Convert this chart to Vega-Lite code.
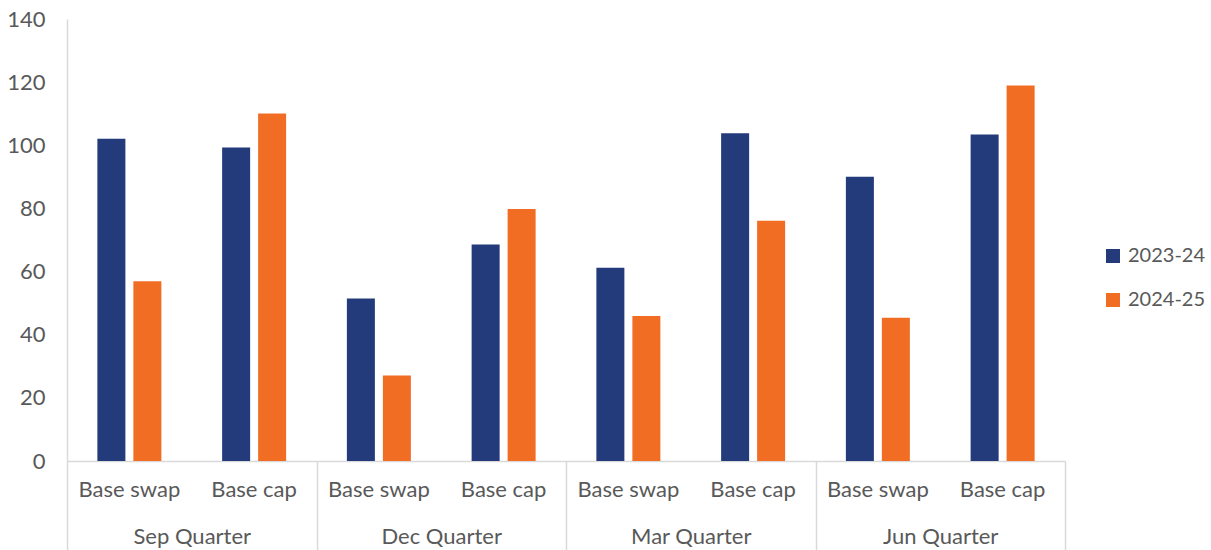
{
  "$schema": "https://vega.github.io/schema/vega-lite/v6.json",
  "width": 998,
  "height": 442,
  "autosize": {"type": "none"},
  "padding": {"left": 67, "top": 19, "right": 146, "bottom": 89},
  "background": "white",
  "config": {
    "view": {"stroke": null},
    "font": "Lato",
    "axis": {"labelFont": "Lato", "labelColor": "#595959", "labelFontSize": 22, "title": null, "grid": false},
    "legend": {"labelFont": "Lato"}
  },
  "data": {
    "values": [
      {"category": "Sep Quarter|Base swap", "quarter": "Sep Quarter", "year": "2023-24", "value": 102.1},
      {"category": "Sep Quarter|Base swap", "quarter": "Sep Quarter", "year": "2024-25", "value": 56.9},
      {"category": "Sep Quarter|Base cap", "quarter": "Sep Quarter", "year": "2023-24", "value": 99.3},
      {"category": "Sep Quarter|Base cap", "quarter": "Sep Quarter", "year": "2024-25", "value": 110.1},
      {"category": "Dec Quarter|Base swap", "quarter": "Dec Quarter", "year": "2023-24", "value": 51.5},
      {"category": "Dec Quarter|Base swap", "quarter": "Dec Quarter", "year": "2024-25", "value": 27.1},
      {"category": "Dec Quarter|Base cap", "quarter": "Dec Quarter", "year": "2023-24", "value": 68.6},
      {"category": "Dec Quarter|Base cap", "quarter": "Dec Quarter", "year": "2024-25", "value": 79.8},
      {"category": "Mar Quarter|Base swap", "quarter": "Mar Quarter", "year": "2023-24", "value": 61.2},
      {"category": "Mar Quarter|Base swap", "quarter": "Mar Quarter", "year": "2024-25", "value": 45.9},
      {"category": "Mar Quarter|Base cap", "quarter": "Mar Quarter", "year": "2023-24", "value": 103.8},
      {"category": "Mar Quarter|Base cap", "quarter": "Mar Quarter", "year": "2024-25", "value": 76.1},
      {"category": "Jun Quarter|Base swap", "quarter": "Jun Quarter", "year": "2023-24", "value": 90.0},
      {"category": "Jun Quarter|Base swap", "quarter": "Jun Quarter", "year": "2024-25", "value": 45.4},
      {"category": "Jun Quarter|Base cap", "quarter": "Jun Quarter", "year": "2023-24", "value": 103.4},
      {"category": "Jun Quarter|Base cap", "quarter": "Jun Quarter", "year": "2024-25", "value": 118.9}
    ]
  },
  "layer": [
    {
      "mark": {"type": "bar"},
      "encoding": {
        "x": {
          "field": "category",
          "type": "nominal",
          "sort": [
            "Sep Quarter|Base swap", "Sep Quarter|Base cap",
            "Dec Quarter|Base swap", "Dec Quarter|Base cap",
            "Mar Quarter|Base swap", "Mar Quarter|Base cap",
            "Jun Quarter|Base swap", "Jun Quarter|Base cap"
          ],
          "scale": {"paddingInner": 0, "paddingOuter": 0},
          "axis": {
            "orient": "bottom",
            "labelAngle": 0,
            "labelExpr": "split(datum.label, '|')[1]",
            "ticks": false,
            "labelPadding": 18,
            "domain": true,
            "domainColor": "#d9d9d9",
            "domainWidth": 1.5
          }
        },
        "xOffset": {
          "field": "year",
          "type": "nominal",
          "scale": {"paddingInner": 0.222, "paddingOuter": 0.844}
        },
        "y": {
          "field": "value",
          "type": "quantitative",
          "scale": {"domain": [0, 140], "nice": false},
          "axis": {
            "values": [0, 20, 40, 60, 80, 100, 120, 140],
            "ticks": false,
            "labelPadding": 22,
            "domainColor": "#d9d9d9",
            "domainWidth": 1.5
          }
        },
        "color": {
          "field": "year",
          "type": "nominal",
          "scale": {"domain": ["2023-24", "2024-25"], "range": ["#233a7b", "#f26d24"]},
          "legend": {
            "title": null,
            "orient": "none",
            "legendX": 1036,
            "legendY": 227,
            "padding": 0,
            "symbolType": "square",
            "symbolSize": 196,
            "symbolStrokeWidth": 0,
            "labelFontSize": 20,
            "labelColor": "#595959",
            "labelOffset": 5,
            "rowPadding": 24
          }
        }
      }
    },
    {
      "mark": {"type": "rule", "opacity": 0},
      "encoding": {
        "x": {
          "field": "quarter",
          "type": "nominal",
          "sort": ["Sep Quarter", "Dec Quarter", "Mar Quarter", "Jun Quarter"],
          "scale": {"paddingInner": 0, "paddingOuter": 0},
          "axis": {
            "orient": "bottom",
            "labelAngle": 0,
            "domain": false,
            "ticks": true,
            "tickBand": "extent",
            "tickSize": 89,
            "tickColor": "#d9d9d9",
            "tickWidth": 1.5,
            "labelPadding": -24
          }
        }
      }
    }
  ],
  "resolve": {"scale": {"x": "independent"}, "axis": {"x": "independent"}}
}
